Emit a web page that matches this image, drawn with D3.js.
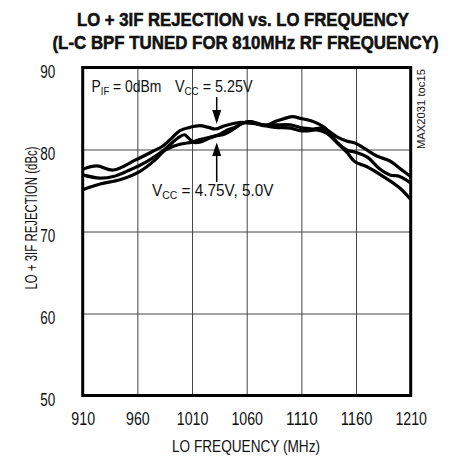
<!DOCTYPE html>
<html>
<head>
<meta charset="utf-8">
<script src="https://cdn.jsdelivr.net/npm/d3@7"></script>
<style>
  html, body { margin: 0; padding: 0; background: #fff; }
  svg { display: block; }
  text { font-family: "Liberation Sans", Arial, sans-serif; fill: #111; }
</style>
</head>
<body>
<svg id="chart" width="451" height="458"></svg>
<script>
// LO + 3IF rejection (dBc) against LO frequency (MHz), one trace per supply voltage
const freq525 = [910, 923, 938, 958, 973, 983, 990, 999, 1008, 1017, 1025, 1031, 1040, 1049, 1056, 1063, 1070, 1077, 1086, 1095, 1102, 1109, 1121, 1132, 1143, 1152, 1159, 1170, 1185, 1200, 1210];
const rej525  = [77.6, 78.0, 77.5, 78.7, 79.7, 80.4, 81.2, 82.3, 82.7, 82.9, 82.7, 82.5, 82.9, 83.2, 83.3, 83.2, 83.1, 82.9, 83.4, 83.8, 84.0, 83.8, 83.4, 82.6, 80.8, 79.6, 78.5, 77.9, 76.7, 75.3, 73.9];

const freq500 = [910, 926, 938, 953, 967, 981, 990, 997, 1003, 1006, 1011, 1017, 1026, 1036, 1043, 1049, 1056, 1063, 1070, 1077, 1086, 1100, 1112, 1121, 1127, 1133, 1143, 1152, 1159, 1168, 1179, 1191, 1200, 1210];
const rej500  = [76.9, 76.5, 76.7, 77.5, 78.4, 79.6, 80.6, 81.4, 81.8, 81.5, 80.9, 80.9, 81.4, 81.9, 82.4, 82.7, 83.2, 83.4, 83.1, 83.0, 83.0, 83.0, 82.6, 82.5, 82.6, 82.4, 81.5, 81.0, 80.8, 80.1, 79.2, 78.6, 77.7, 76.7];

const freq475 = [910, 926, 944, 962, 976, 985, 993, 1001, 1010, 1017, 1026, 1034, 1040, 1048, 1056, 1063, 1070, 1077, 1086, 1100, 1109, 1118, 1124, 1133, 1143, 1152, 1159, 1170, 1182, 1191, 1200, 1210];
const rej475  = [75.1, 75.8, 76.3, 77.3, 78.7, 79.9, 80.4, 80.7, 80.9, 81.2, 81.5, 81.7, 81.9, 82.5, 83.2, 83.4, 83.2, 82.9, 82.7, 82.6, 82.3, 82.3, 82.4, 82.0, 80.8, 79.9, 79.7, 79.1, 77.6, 76.9, 76.7, 75.9];

const xTicks = [910, 960, 1010, 1060, 1110, 1160, 1210];
const yTicks = [50, 60, 70, 80, 90];

const svg = d3.select("#chart");
const plotL = 82.7, plotR = 410.7, plotT = 67.5, plotB = 395.5;
const digitW = 7.9;   // condensed digit advance

const x = d3.scaleLinear().domain([910, 1210]).range([plotL, plotR]);
const y = d3.scaleLinear().domain([50, 90]).range([plotB, plotT]);

// squeeze a text horizontally about (ox) so it spans the given width
function fitWidth(sel, width, ox) {
  const w = sel.node().getComputedTextLength();
  const k = width / w;
  sel.attr("transform", `translate(${ox},0) scale(${k},1) translate(${-ox},0)`);
}

// grid
svg.append("g")
  .attr("transform", `translate(0,${plotB})`)
  .call(d3.axisBottom(x).tickValues(xTicks).tickSize(-(plotB - plotT)).tickFormat(""))
  .call(g => g.select(".domain").remove())
  .selectAll("line").attr("stroke", "#444").attr("stroke-width", 1);
svg.append("g")
  .attr("transform", `translate(${plotL},0)`)
  .call(d3.axisLeft(y).tickValues(yTicks).tickSize(-(plotR - plotL)).tickFormat(""))
  .call(g => g.select(".domain").remove())
  .selectAll("line").attr("stroke", "#444").attr("stroke-width", 1);

// tick labels
const xAxis = svg.append("g")
  .attr("transform", `translate(0,${plotB})`)
  .call(d3.axisBottom(x).tickValues(xTicks).tickSize(0).tickFormat(d3.format("d")));
xAxis.select(".domain").remove();
xAxis.selectAll("text")
  .attr("y", 29.5).attr("dy", null)
  .attr("font-size", 17.5).attr("font-family", null).attr("fill", "#111")
  .attr("textLength", d => String(d).length * digitW)
  .attr("lengthAdjust", "spacingAndGlyphs");

const yAxis = svg.append("g")
  .attr("transform", `translate(${plotL},0)`)
  .call(d3.axisLeft(y).tickValues(yTicks).tickSize(0));
yAxis.select(".domain").remove();
yAxis.selectAll("text")
  .attr("x", -27.5).attr("dy", 9.8)
  .attr("font-size", 17.5).attr("font-family", null).attr("fill", "#111")
  .attr("textLength", d => String(d).length * 7.5)
  .attr("lengthAdjust", "spacingAndGlyphs");

// traces
const line = d3.line()
  .x(d => x(d[0]))
  .y(d => y(d[1]))
  .curve(d3.curveCatmullRom.alpha(0.5));

svg.append("clipPath").attr("id", "plotclip")
  .append("rect").attr("x", plotL).attr("y", plotT).attr("width", plotR - plotL).attr("height", plotB - plotT);

const traces = [
  d3.zip(freq525, rej525),
  d3.zip(freq500, rej500),
  d3.zip(freq475, rej475)
];
svg.append("g").attr("clip-path", "url(#plotclip)")
  .selectAll("path").data(traces).join("path")
  .attr("d", line)
  .attr("fill", "none")
  .attr("stroke", "#000")
  .attr("stroke-width", 3.2)
  .attr("stroke-linejoin", "round");

// frame
svg.append("rect")
  .attr("x", plotL).attr("y", plotT)
  .attr("width", plotR - plotL).attr("height", plotB - plotT)
  .attr("fill", "none").attr("stroke", "#000").attr("stroke-width", 3);

// two-line bold title, stretched vertically to a tall condensed look
function titleLine(cx, by, width, str) {
  svg.append("text")
    .attr("transform", `translate(${cx},${by}) scale(1,1.25)`)
    .attr("text-anchor", "middle")
    .attr("font-size", 15).attr("font-weight", "bold")
    .attr("stroke", "#111").attr("stroke-width", 0.45)
    .attr("textLength", width).attr("lengthAdjust", "spacingAndGlyphs")
    .text(str);
}
titleLine(243, 26, 332, "LO + 3IF REJECTION vs. LO FREQUENCY");
titleLine(245.5, 48.5, 386, "(L-C BPF TUNED FOR 810MHz RF FREQUENCY)");

svg.append("text").attr("x", 246).attr("y", 452).attr("text-anchor", "middle")
  .attr("font-size", 17)
  .attr("textLength", 148).attr("lengthAdjust", "spacingAndGlyphs")
  .text("LO FREQUENCY (MHz)");

svg.append("text")
  .attr("transform", "translate(37,218) rotate(-90)")
  .attr("text-anchor", "middle").attr("font-size", 16)
  .attr("textLength", 143).attr("lengthAdjust", "spacingAndGlyphs")
  .text("LO + 3IF REJECTION (dBc)");

svg.append("text")
  .attr("transform", "translate(425,109) rotate(-90)")
  .attr("text-anchor", "middle").attr("font-size", 10)
  .attr("textLength", 80).attr("lengthAdjust", "spacingAndGlyphs")
  .text("MAX2031 toc15");

// annotations with subscripts
function subLabel(xp, yp, main, sub, rest, width) {
  const t = svg.append("text").attr("x", xp).attr("y", yp).attr("font-size", 17);
  t.append("tspan").text(main);
  t.append("tspan").attr("font-size", 11.5).attr("dy", 3).text(sub);
  t.append("tspan").attr("dy", -3).text(rest);
  fitWidth(t, width, xp);
  return t;
}
subLabel(91.5, 92, "P", "IF", " = 0dBm", 70);
subLabel(175, 92, "V", "CC", " = 5.25V", 77.7);
subLabel(152, 196, "V", "CC", " = 4.75V, 5.0V", 121.6);

// arrows pointing at the traces
const arrowX = 216.7;
svg.append("line").attr("x1", arrowX).attr("x2", arrowX).attr("y1", 97).attr("y2", 112)
  .attr("stroke", "#000").attr("stroke-width", 1.5);
svg.append("path")
  .attr("d", `M${arrowX - 4.5},110 L${arrowX + 4.5},110 L${arrowX},124 Z`).attr("fill", "#000");
svg.append("line").attr("x1", arrowX).attr("x2", arrowX).attr("y1", 154).attr("y2", 182)
  .attr("stroke", "#000").attr("stroke-width", 1.5);
svg.append("path")
  .attr("d", `M${arrowX - 4.5},156 L${arrowX + 4.5},156 L${arrowX},142.5 Z`).attr("fill", "#000");
</script>
</body>
</html>
